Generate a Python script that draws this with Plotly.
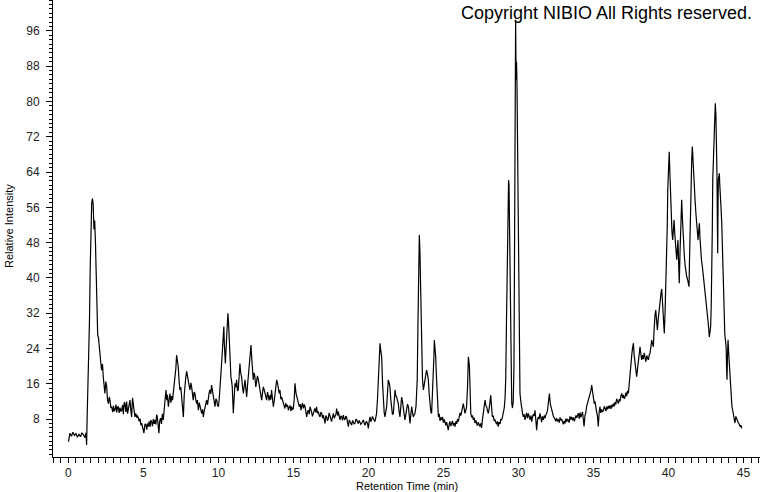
import plotly.graph_objects as go

retention_time = [
    0.0, 0.05, 0.1, 0.2, 0.3, 0.4, 0.5, 0.6, 0.7, 0.8, 0.9, 1.0, 1.1, 1.17, 1.21, 1.25, 1.3, 1.35, 1.4, 1.45,
    1.5, 1.55, 1.6, 1.65, 1.7, 1.75, 1.8, 1.85, 1.9, 1.95, 2.0, 2.05, 2.1, 2.15, 2.21, 2.27, 2.32, 2.38, 2.43, 2.49,
    2.55, 2.6, 2.66, 2.72, 2.77, 2.83, 2.88, 2.95, 3.0, 3.05, 3.1, 3.17, 3.22, 3.27, 3.32, 3.38, 3.44, 3.5, 3.55, 3.61,
    3.66, 3.72, 3.77, 3.83, 3.88, 3.94, 3.99, 4.05, 4.1, 4.16, 4.21, 4.27, 4.32, 4.38, 4.43, 4.49, 4.55, 4.6, 4.66, 4.72,
    4.77, 4.83, 4.88, 4.94, 4.98, 5.03, 5.1, 5.17, 5.22, 5.27, 5.32, 5.38, 5.44, 5.49, 5.54, 5.6, 5.66, 5.72, 5.77, 5.83,
    5.88, 5.92, 5.97, 6.03, 6.08, 6.14, 6.2, 6.26, 6.32, 6.38, 6.44, 6.5, 6.55, 6.6, 6.66, 6.72, 6.77, 6.83, 6.88, 6.94,
    7.0, 7.05, 7.1, 7.16, 7.21, 7.27, 7.32, 7.38, 7.43, 7.49, 7.54, 7.6, 7.66, 7.72, 7.77, 7.82, 7.88, 7.94, 7.99, 8.05,
    8.1, 8.16, 8.21, 8.27, 8.32, 8.38, 8.43, 8.49, 8.54, 8.6, 8.66, 8.72, 8.77, 8.83, 8.88, 8.94, 8.99, 9.05, 9.1, 9.16,
    9.21, 9.27, 9.32, 9.38, 9.43, 9.49, 9.54, 9.6, 9.66, 9.72, 9.77, 9.83, 9.88, 9.94, 9.99, 10.05, 10.1, 10.16, 10.21, 10.27,
    10.32, 10.36, 10.39, 10.46, 10.5, 10.54, 10.59, 10.63, 10.67, 10.7, 10.77, 10.83, 10.88, 10.92, 10.96, 10.99, 11.05, 11.1, 11.16, 11.21,
    11.27, 11.32, 11.38, 11.43, 11.49, 11.54, 11.6, 11.66, 11.72, 11.77, 11.83, 11.88, 11.94, 11.99, 12.05, 12.1, 12.17, 12.22, 12.26, 12.32,
    12.38, 12.43, 12.49, 12.54, 12.6, 12.66, 12.72, 12.77, 12.83, 12.88, 12.94, 12.99, 13.05, 13.1, 13.16, 13.21, 13.27, 13.32, 13.38, 13.43,
    13.49, 13.54, 13.6, 13.66, 13.72, 13.77, 13.83, 13.88, 13.94, 13.99, 14.05, 14.1, 14.16, 14.21, 14.27, 14.32, 14.38, 14.43, 14.49, 14.54,
    14.6, 14.66, 14.72, 14.77, 14.83, 14.88, 14.94, 14.99, 15.05, 15.1, 15.17, 15.22, 15.26, 15.33, 15.39, 15.45, 15.5, 15.54, 15.6, 15.66,
    15.72, 15.77, 15.83, 15.88, 15.94, 15.99, 16.05, 16.1, 16.16, 16.21, 16.27, 16.32, 16.38, 16.43, 16.49, 16.54, 16.6, 16.66, 16.72, 16.77,
    16.83, 16.88, 16.94, 16.99, 17.05, 17.1, 17.16, 17.21, 17.27, 17.32, 17.38, 17.43, 17.49, 17.54, 17.6, 17.66, 17.72, 17.77, 17.83, 17.88,
    17.94, 17.99, 18.05, 18.1, 18.16, 18.21, 18.27, 18.32, 18.38, 18.43, 18.49, 18.54, 18.6, 18.66, 18.72, 18.77, 18.83, 18.88, 18.94, 18.99,
    19.05, 19.1, 19.16, 19.21, 19.27, 19.32, 19.38, 19.43, 19.49, 19.54, 19.6, 19.66, 19.72, 19.77, 19.83, 19.88, 19.94, 19.99, 20.05, 20.1,
    20.16, 20.21, 20.27, 20.32, 20.38, 20.43, 20.49, 20.54, 20.6, 20.66, 20.72, 20.77, 20.82, 20.88, 20.94, 20.99, 21.05, 21.1, 21.16, 21.21,
    21.27, 21.32, 21.38, 21.43, 21.49, 21.54, 21.6, 21.66, 21.72, 21.77, 21.83, 21.88, 21.94, 21.99, 22.05, 22.1, 22.16, 22.21, 22.27, 22.32,
    22.38, 22.43, 22.49, 22.54, 22.6, 22.66, 22.72, 22.77, 22.83, 22.88, 22.94, 22.99, 23.05, 23.1, 23.17, 23.21, 23.25, 23.3, 23.34, 23.39,
    23.43, 23.48, 23.52, 23.55, 23.6, 23.66, 23.72, 23.77, 23.83, 23.88, 23.94, 23.99, 24.05, 24.1, 24.16, 24.21, 24.27, 24.32, 24.36, 24.39,
    24.44, 24.48, 24.52, 24.55, 24.6, 24.66, 24.72, 24.77, 24.83, 24.88, 24.94, 24.99, 25.05, 25.1, 25.16, 25.21, 25.27, 25.32, 25.38, 25.43,
    25.49, 25.54, 25.6, 25.66, 25.72, 25.77, 25.83, 25.88, 25.94, 25.99, 26.05, 26.1, 26.16, 26.21, 26.27, 26.32, 26.38, 26.43, 26.49, 26.54,
    26.6, 26.66, 26.7, 26.73, 26.78, 26.82, 26.88, 26.94, 26.99, 27.05, 27.1, 27.16, 27.21, 27.27, 27.32, 27.38, 27.43, 27.49, 27.54, 27.6,
    27.66, 27.72, 27.77, 27.83, 27.88, 27.94, 27.99, 28.05, 28.1, 28.15, 28.2, 28.26, 28.32, 28.38, 28.43, 28.49, 28.54, 28.6, 28.65, 28.71,
    28.77, 28.82, 28.88, 28.94, 29.0, 29.05, 29.1, 29.15, 29.2, 29.24, 29.28, 29.31, 29.34, 29.37, 29.4, 29.43, 29.47, 29.5, 29.55, 29.6,
    29.65, 29.7, 29.74, 29.77, 29.79, 29.81, 29.83, 29.85, 29.87, 29.9, 29.93, 29.95, 29.98, 30.02, 30.06, 30.1, 30.16, 30.21, 30.27, 30.32,
    30.38, 30.43, 30.49, 30.54, 30.6, 30.66, 30.72, 30.77, 30.83, 30.88, 30.94, 30.99, 31.05, 31.1, 31.16, 31.21, 31.27, 31.32, 31.38, 31.43,
    31.49, 31.54, 31.6, 31.66, 31.72, 31.77, 31.83, 31.88, 31.94, 32.0, 32.06, 32.12, 32.16, 32.21, 32.27, 32.32, 32.38, 32.43, 32.49, 32.54,
    32.6, 32.66, 32.72, 32.77, 32.83, 32.88, 32.94, 32.99, 33.05, 33.1, 33.16, 33.21, 33.27, 33.32, 33.38, 33.43, 33.49, 33.54, 33.6, 33.66,
    33.72, 33.77, 33.83, 33.88, 33.94, 33.99, 34.05, 34.1, 34.16, 34.21, 34.27, 34.32, 34.37, 34.43, 34.49, 34.54, 34.6, 34.66, 34.72, 34.77,
    34.83, 34.88, 34.94, 34.99, 35.05, 35.1, 35.14, 35.2, 35.26, 35.32, 35.38, 35.43, 35.49, 35.54, 35.6, 35.66, 35.72, 35.77, 35.83, 35.88,
    35.94, 35.99, 36.05, 36.1, 36.16, 36.21, 36.27, 36.32, 36.38, 36.43, 36.49, 36.54, 36.6, 36.66, 36.72, 36.77, 36.83, 36.88, 36.94, 36.99,
    37.05, 37.1, 37.16, 37.21, 37.27, 37.32, 37.38, 37.43, 37.49, 37.55, 37.6, 37.66, 37.71, 37.77, 37.82, 37.88, 37.94, 37.99, 38.05, 38.1,
    38.16, 38.21, 38.27, 38.32, 38.38, 38.43, 38.49, 38.55, 38.6, 38.66, 38.72, 38.77, 38.83, 38.88, 38.94, 38.99, 39.03, 39.06, 39.1, 39.15,
    39.2, 39.26, 39.32, 39.39, 39.45, 39.5, 39.55, 39.59, 39.64, 39.68, 39.72, 39.77, 39.81, 39.85, 39.88, 39.92, 39.95, 39.98, 40.01, 40.05,
    40.08, 40.12, 40.16, 40.19, 40.23, 40.28, 40.33, 40.37, 40.42, 40.46, 40.5, 40.55, 40.59, 40.63, 40.68, 40.72, 40.77, 40.81, 40.85, 40.88,
    40.92, 40.97, 41.02, 41.06, 41.12, 41.17, 41.22, 41.28, 41.33, 41.37, 41.4, 41.43, 41.47, 41.5, 41.55, 41.59, 41.63, 41.68, 41.72, 41.77,
    41.83, 41.88, 41.92, 41.97, 42.01, 42.06, 42.1, 42.15, 42.2, 42.26, 42.31, 42.37, 42.41, 42.46, 42.5, 42.55, 42.59, 42.63, 42.68, 42.72,
    42.77, 42.81, 42.85, 42.88, 42.92, 42.95, 43.0, 43.04, 43.08, 43.12, 43.16, 43.19, 43.21, 43.23, 43.26, 43.28, 43.3, 43.32, 43.36, 43.39,
    43.42, 43.46, 43.5, 43.55, 43.6, 43.66, 43.7, 43.75, 43.8, 43.84, 43.87, 43.9, 43.93, 43.97, 44.02, 44.06, 44.1, 44.15, 44.19, 44.23,
    44.28, 44.32, 44.38, 44.43, 44.49, 44.54, 44.6, 44.66, 44.72, 44.77, 44.83, 44.88,
]

relative_intensity = [
    2.9, 4.2, 4.8, 4.1, 5.0, 4.3, 4.7, 3.9, 4.6, 4.0, 4.9, 4.4, 3.8, 4.9, 2.1, 9.0, 14.5, 20.0, 30.0, 42.0,
    52.0, 57.0, 58.0, 56.5, 51.0, 53.0, 48.0, 40.0, 30.0, 27.0, 26.5, 24.0, 23.0, 21.0, 19.1, 20.5, 17.6, 16.0, 13.8, 16.5,
    15.3, 12.5, 11.5, 13.0, 12.3, 10.5, 10.8, 9.6, 11.0, 9.8, 10.0, 11.3, 9.5, 10.7, 10.8, 9.4, 10.6, 9.7, 10.0, 11.2,
    9.1, 11.8, 11.5, 9.6, 12.0, 9.2, 10.0, 11.3, 12.3, 9.9, 8.5, 12.8, 11.5, 10.0, 8.5, 9.3, 8.3, 8.8, 8.2, 7.5,
    8.1, 6.6, 7.1, 6.2, 5.6, 4.8, 6.9, 6.7, 5.6, 7.0, 6.3, 7.5, 6.2, 7.8, 7.4, 6.4, 8.0, 6.9, 7.8, 6.8,
    9.0, 8.5, 7.0, 4.8, 7.5, 8.2, 6.9, 9.2, 7.8, 10.5, 11.8, 14.6, 12.3, 13.5, 10.8, 12.4, 13.8, 11.7, 13.2, 12.3,
    14.2, 15.3, 16.9, 19.5, 22.5, 21.4, 19.8, 16.4, 14.6, 15.2, 13.1, 11.2, 8.5, 13.5, 16.1, 17.4, 18.8, 17.2, 16.1, 15.5,
    14.6, 16.2, 15.3, 13.2, 12.3, 14.1, 13.8, 12.4, 11.5, 12.3, 10.0, 11.7, 10.8, 9.6, 9.3, 10.2, 8.5, 9.8, 10.8, 11.5,
    12.3, 11.2, 13.1, 14.0, 14.6, 13.7, 15.7, 14.2, 13.1, 11.8, 10.8, 12.6, 12.3, 11.1, 10.8, 12.5, 14.6, 18.0, 20.6, 24.0,
    27.4, 29.0, 25.2, 20.6, 23.5, 26.7, 29.5, 32.0, 30.0, 27.4, 21.4, 17.6, 16.5, 15.3, 12.0, 9.3, 13.0, 16.1, 15.2, 16.9,
    14.4, 14.6, 17.8, 20.6, 18.3, 17.6, 15.4, 13.8, 15.5, 16.9, 14.8, 13.0, 15.7, 17.6, 19.5, 22.1, 24.8, 21.7, 19.8, 16.9,
    18.5, 17.6, 15.3, 16.1, 17.8, 16.9, 15.6, 14.6, 13.2, 12.3, 14.0, 15.3, 14.6, 13.8, 12.9, 12.3, 14.1, 13.0, 12.2, 13.4,
    12.4, 14.6, 12.9, 10.8, 12.2, 13.8, 15.5, 16.9, 16.1, 15.3, 13.8, 14.6, 12.5, 13.0, 12.1, 11.5, 11.0, 10.4, 11.6, 10.8,
    11.2, 10.0, 10.7, 11.1, 9.8, 10.8, 10.1, 10.4, 12.5, 16.1, 13.8, 13.1, 12.3, 11.4, 10.8, 11.4, 10.0, 10.8, 11.6, 10.4,
    11.3, 10.8, 9.5, 8.5, 9.6, 10.0, 9.1, 10.8, 10.2, 9.7, 8.6, 9.3, 10.1, 10.4, 9.5, 10.8, 9.3, 9.7, 8.8, 8.5,
    9.6, 9.3, 8.2, 8.9, 8.0, 7.0, 8.8, 8.5, 7.6, 8.1, 9.4, 8.9, 8.0, 7.4, 8.4, 9.3, 8.2, 8.5, 9.1, 10.4,
    8.8, 9.7, 8.6, 7.8, 8.7, 8.5, 7.7, 8.9, 8.1, 7.8, 8.6, 8.5, 7.3, 6.3, 7.8, 7.4, 6.8, 6.6, 7.7, 7.4,
    6.9, 7.0, 8.0, 7.8, 7.1, 7.0, 7.7, 7.4, 6.8, 7.0, 7.5, 7.8, 7.0, 6.6, 7.3, 7.4, 6.9, 5.9, 7.6, 8.5,
    7.4, 7.8, 8.6, 8.1, 7.5, 7.4, 8.4, 9.3, 12.5, 16.9, 21.5, 25.2, 23.5, 22.1, 16.0, 10.8, 9.4, 8.5, 9.6, 10.8,
    14.0, 16.9, 16.2, 15.3, 12.4, 10.0, 9.0, 9.3, 12.0, 14.6, 13.2, 13.0, 12.1, 11.5, 9.5, 8.5, 11.0, 13.0, 11.9, 10.8,
    9.2, 7.8, 9.0, 10.0, 11.4, 10.8, 8.6, 7.0, 9.3, 10.8, 9.4, 8.5, 9.0, 9.3, 11.0, 13.8, 17.0, 30.0, 44.0, 49.7,
    46.0, 38.0, 28.0, 21.4, 17.0, 14.6, 15.5, 16.9, 18.3, 19.1, 18.0, 16.9, 13.5, 10.8, 9.6, 9.3, 13.5, 17.6, 22.0, 25.9,
    24.2, 22.2, 18.5, 15.3, 11.2, 8.5, 9.2, 7.6, 8.4, 7.8, 8.5, 7.2, 7.9, 7.4, 6.6, 7.3, 6.2, 5.5, 6.8, 7.5,
    6.4, 7.0, 7.6, 6.5, 7.1, 6.3, 7.5, 6.9, 8.0, 7.4, 8.2, 9.4, 8.8, 10.0, 10.8, 11.5, 10.4, 9.3, 10.0, 10.8,
    15.0, 22.1, 21.0, 19.8, 14.0, 9.3, 8.4, 8.8, 7.8, 8.3, 7.1, 7.7, 7.0, 6.5, 7.3, 6.6, 6.3, 7.0, 6.0, 8.0,
    9.8, 11.2, 12.3, 11.0, 10.8, 9.8, 9.3, 10.5, 12.0, 13.4, 11.0, 8.5, 8.8, 7.6, 7.8, 7.2, 6.8, 7.5, 6.3, 7.3,
    6.9, 8.0, 7.8, 8.6, 9.4, 10.5, 12.5, 17.0, 30.0, 42.0, 48.6, 56.0, 62.2, 61.0, 52.0, 40.0, 26.0, 16.0, 11.6, 10.5,
    12.0, 20.0, 45.0, 72.0, 85.0, 98.5, 89.5, 85.0, 89.0, 84.0, 70.0, 64.0, 48.0, 32.0, 22.0, 13.8, 11.9, 10.0, 9.3, 8.5,
    9.1, 7.8, 8.6, 9.4, 8.2, 9.3, 8.5, 7.9, 8.8, 7.4, 8.5, 9.1, 8.7, 10.0, 7.7, 5.5, 7.8, 8.5, 8.0, 9.3,
    8.4, 7.3, 8.6, 7.8, 8.8, 8.2, 9.0, 9.3, 10.1, 11.8, 13.8, 11.5, 10.8, 10.0, 9.2, 8.7, 8.3, 8.0, 7.5, 8.2,
    7.6, 7.8, 7.2, 8.4, 7.7, 8.0, 7.4, 6.8, 7.6, 7.0, 8.1, 7.4, 8.0, 7.8, 7.2, 8.6, 7.9, 8.5, 7.7, 8.4,
    7.5, 8.0, 8.8, 8.3, 9.0, 9.3, 8.1, 9.5, 8.4, 8.9, 9.6, 8.0, 6.3, 8.8, 9.5, 10.8, 11.5, 12.4, 13.0, 13.8,
    14.5, 15.7, 13.6, 12.3, 11.5, 12.0, 10.8, 9.8, 8.8, 6.3, 9.6, 10.8, 9.4, 10.2, 9.6, 10.0, 10.9, 10.1, 9.8, 10.8,
    10.2, 11.0, 10.4, 11.1, 10.3, 11.2, 10.7, 11.5, 10.9, 11.8, 11.3, 12.6, 11.8, 11.5, 12.5, 12.0, 13.3, 13.8, 12.8, 13.5,
    12.6, 13.0, 14.0, 13.2, 14.4, 13.8, 15.8, 18.4, 20.5, 22.5, 24.0, 25.2, 22.5, 20.2, 18.8, 17.6, 19.5, 20.6, 22.8, 24.4,
    22.6, 21.4, 22.5, 21.6, 23.0, 22.2, 21.0, 22.4, 21.7, 21.4, 22.6, 22.9, 24.5, 25.9, 25.0, 24.4, 27.5, 30.4, 31.5, 32.7,
    30.5, 28.2, 30.8, 33.5, 35.2, 36.5, 37.5, 35.0, 32.5, 30.4, 27.4, 32.0, 36.5, 40.0, 42.5, 52.0, 59.9, 64.0, 66.7, 68.6,
    65.0, 60.6, 56.0, 52.4, 50.5, 48.6, 51.0, 53.1, 50.0, 47.1, 45.5, 44.1, 46.5, 48.6, 43.0, 38.8, 46.0, 53.1, 56.0, 57.7,
    54.0, 50.1, 47.5, 44.8, 42.5, 41.0, 40.2, 39.5, 38.6, 38.0, 44.0, 50.1, 56.0, 62.2, 67.0, 69.8, 66.5, 63.7, 60.5, 57.7,
    54.5, 51.6, 50.0, 48.6, 50.5, 52.4, 49.0, 45.6, 44.0, 42.5, 41.0, 39.5, 38.0, 36.5, 35.0, 33.5, 32.0, 30.4, 28.5, 26.6,
    27.8, 29.0, 34.0, 39.5, 51.0, 62.2, 68.0, 73.5, 77.0, 79.6, 77.0, 73.5, 68.0, 63.7, 52.0, 45.6, 55.0, 62.2, 63.5, 63.7,
    61.0, 59.1, 56.0, 52.4, 47.5, 42.5, 34.0, 27.4, 26.0, 24.4, 20.0, 16.9, 22.0, 26.0, 22.5, 20.0, 17.5, 15.5, 13.0, 10.8,
    10.0, 9.3, 8.0, 7.1, 8.6, 8.2, 7.3, 7.1, 6.8, 6.3, 6.6, 5.9,
]

x_tick_values = [0, 5, 10, 15, 20, 25, 30, 35, 40, 45]
y_tick_values = [8, 16, 24, 32, 40, 48, 56, 64, 72, 80, 88, 96]

FONT = "Liberation Sans, Arial, sans-serif"
L, R, T, B = 53, 0, 0, 35
PW, PH = 760 - L - R, 492 - T - B

fig = go.Figure()
fig.add_trace(go.Scatter(
    x=retention_time, y=relative_intensity, mode="lines",
    line=dict(color="black", width=1.2), hoverinfo="skip", showlegend=False,
))

fig.update_layout(
    width=760, height=492,
    margin=dict(l=L, r=R, t=T, b=B, autoexpand=False),
    paper_bgcolor="white", plot_bgcolor="white",
    font=dict(family=FONT, size=11, color="black"),
    xaxis=dict(
        range=[-1.03, 46.1], showgrid=False, zeroline=False, automargin=False,
        showline=True, linecolor="black", linewidth=1,
        tickmode="array", tickvals=x_tick_values, ticktext=[str(v) for v in x_tick_values],
        ticks="outside", ticklen=5, tickcolor="black", tickwidth=1,
        minor=dict(dtick=0.5, tick0=0, ticks="outside", ticklen=5, tickcolor="black", tickwidth=1, showgrid=False),
        tickfont=dict(size=12, family=FONT, color="#222"),
    ),
    yaxis=dict(
        range=[-0.6, 103.0], showgrid=False, zeroline=False, automargin=False,
        showline=True, linecolor="black", linewidth=1,
        tickmode="array", tickvals=y_tick_values, ticktext=[str(v) for v in y_tick_values],
        ticks="outside", ticklen=6, tickcolor="black", tickwidth=1, ticklabelstandoff=4,
        minor=dict(dtick=1, tick0=0, ticks="outside", ticklen=3, tickcolor="black", tickwidth=1, showgrid=False),
        tickfont=dict(size=12, family=FONT, color="#222"),
    ),
    annotations=[
        dict(
            text="Copyright NIBIO All Rights reserved.",
            xref="paper", yref="paper", x=(754 - L) / PW, y=(PH - 13) / PH,
            xanchor="right", yanchor="middle", showarrow=False,
            font=dict(size=18, family=FONT, color="black"),
        ),
        dict(
            text="Retention Time (min)",
            xref="paper", yref="paper", x=(407 - L) / PW, y=(PH - 486) / PH,
            xanchor="center", yanchor="middle", showarrow=False,
            font=dict(size=11, family=FONT, color="black"),
        ),
        dict(
            text="Relative Intensity", textangle=-90,
            xref="paper", yref="paper", x=(9 - L) / PW, y=(PH - 226) / PH,
            xanchor="center", yanchor="middle", showarrow=False,
            font=dict(size=11, family=FONT, color="black"),
        ),
    ],
)

fig.write_html(
    "out.html",
    config={"displayModeBar": False},
    post_script="document.body.style.margin='0';document.body.style.overflow='hidden';",
)
